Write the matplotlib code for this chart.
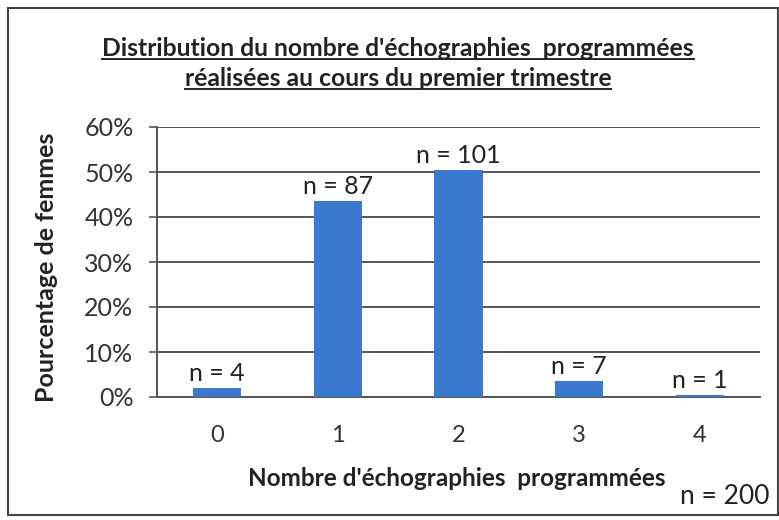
import matplotlib.pyplot as plt
from matplotlib.patches import Rectangle
from matplotlib.lines import Line2D

# données
categories = ['0', '1', '2', '3', '4']
effectifs = [4, 87, 101, 7, 1]
pourcentages = [2.0, 43.5, 50.5, 3.5, 0.5]
yticks = [0, 10, 20, 30, 40, 50, 60]
total = 200

plt.rcParams['font.family'] = ['Lato', 'DejaVu Sans']

fig = plt.figure(figsize=(7.79, 5.2), dpi=100)
W, H = 779, 520
ax = fig.add_axes([157 / W, 1 - 397 / H, 603 / W, 270 / H])

x = range(len(categories))
bars = ax.bar(x, pourcentages, width=0.4, color='#3b78d0', zorder=3)
for b, n in zip(bars, effectifs):
    ax.annotate(f'n = {n}', (b.get_x() + b.get_width() / 2, b.get_height()),
                xytext=(0, 2), textcoords='offset points', ha='center', va='bottom',
                fontsize=18, color='#222222')

ax.set_xlim(-0.5, 4.5)
ax.set_ylim(0, 60)
ax.set_yticks(yticks)
ax.set_yticklabels([f'{v}%' for v in yticks], fontsize=18, color='#333333')
ax.set_xticks(list(x))
ax.set_xticklabels(categories, fontsize=17, color='#333333')
ax.tick_params(axis='x', length=0, pad=20)
ax.tick_params(axis='y', length=6, width=1.2, color='#555555', pad=11)
ax.yaxis.grid(True, color='#555555', linewidth=1.4, zorder=0)
for s in ['top', 'right']:
    ax.spines[s].set_visible(False)
ax.spines['left'].set_color('#555555')
ax.spines['left'].set_linewidth(1.4)
ax.spines['bottom'].set_color('#555555')
ax.spines['bottom'].set_linewidth(1.4)

ax.set_ylabel('Pourcentage de femmes', fontsize=18, fontweight='bold', color='#222222')
ax.yaxis.set_label_coords(-99 / 603, 0.48)
fig.text(457 / W, 1 - 478 / H, "Nombre d'échographies  programmées", ha='center', va='center',
         fontsize=17.5, fontweight='bold', color='#222222')
fig.text(770 / W, 1 - 497 / H, f'n = {total}', ha='right', va='center', fontsize=19, color='#222222')

# titre souligné
titres = ["Distribution du nombre d'échographies  programmées",
          "réalisées au cours du premier trimestre"]
fig.canvas.draw()
renderer = fig.canvas.get_renderer()
for t, yy in zip(titres, [48, 78]):
    txt = fig.text(398 / W, 1 - yy / H, t, ha='center', va='center', fontsize=17.8,
                   fontweight='bold', color='#222222')
    bb = txt.get_window_extent(renderer=renderer)
    yl = (bb.y0 + 1) / H
    fig.add_artist(Line2D([bb.x0 / W, bb.x1 / W], [yl, yl], color='#222222', linewidth=1.4))

# cadre
fig.add_artist(Rectangle((8 / W, 5 / H), 770 / W, 507 / H, fill=False,
                         edgecolor='#444444', linewidth=1.5, transform=fig.transFigure))

fig.savefig('out.png', dpi=100)
